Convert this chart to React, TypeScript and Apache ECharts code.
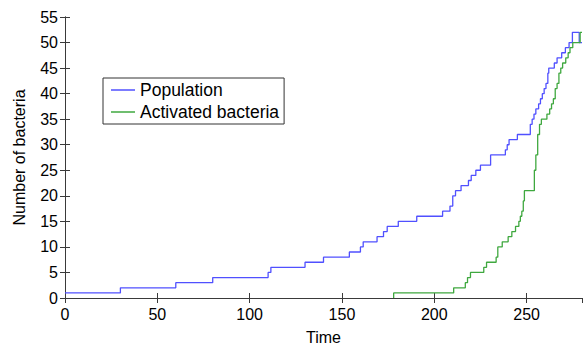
import React, { useEffect, useRef } from "react";
import * as echarts from "echarts";

// Step data: value holds from the given time until the next time
const popTimes = [0, 30, 60, 80, 110, 111.5, 130, 140, 154, 160, 161.5, 169, 172.5, 174.5, 180.5, 190.5, 204.5, 208.5, 210, 211.5, 214.5, 218.5, 220, 222.5, 225, 230.5, 238.5, 239.5, 240.5, 245, 252, 253, 254, 255, 256.5, 257.5, 258.5, 259.5, 260.5, 261.5, 262, 265, 266.5, 269, 271, 273, 274.8, 278.5, 280];
const popValues = [1, 2, 3, 4, 5, 6, 7, 8, 9, 10, 11, 12, 13, 14, 15, 16, 17, 18, 20, 21, 22, 23, 24, 25, 26, 28, 29, 30, 31, 32, 34, 35, 36, 37, 38, 39, 40, 41, 42, 44, 45, 46, 47, 48, 49, 50, 52, 50, 50];

const actTimes = [178, 178, 210.5, 216.8, 218, 219.6, 226.8, 228.3, 233.5, 234.4, 236.8, 240, 242, 244, 245.8, 246.6, 247.4, 248.2, 248.8, 254.2, 255, 256, 257, 258, 261, 262.5, 263.5, 264.5, 265.5, 266.5, 267.5, 268.5, 269.5, 271.2, 272.5, 273.5, 275, 279, 280];
const actValues = [0, 1, 2, 3, 4, 5, 6, 7, 8, 10, 11, 12, 13, 14, 15, 16, 17, 19, 21, 25, 28, 32, 34, 35, 36, 37, 38, 39, 41, 42, 44, 45, 46, 47, 48, 49, 50, 52, 52];

const seriesNames = ["Population", "Activated bacteria"];
const xName = "Time";
const yName = "Number of bacteria";

const FONT = "'Liberation Sans', Arial, Helvetica, sans-serif";

export default function App() {
  const ref = useRef<HTMLDivElement>(null);
  useEffect(() => {
    if (!ref.current) return;
    const chart = echarts.init(ref.current, undefined, { renderer: "svg" });
    const pop = popTimes.map((t, i) => [t, popValues[i]]);
    const act = actTimes.map((t, i) => [t, actValues[i]]);
    const axisLine = { show: true, lineStyle: { color: "#3a3a3a", width: 1 } };
    const tick = { show: true, inside: true, length: 5, lineStyle: { color: "#3a3a3a" } };
    const label = { color: "#000", fontSize: 16, fontFamily: FONT };
    chart.setOption({
      animation: false,
      backgroundColor: "#fff",
      grid: { left: 65, right: 2, top: 17, bottom: 47, containLabel: false, outerBoundsMode: "none" },
      legend: {
        orient: "vertical",
        left: 103,
        top: 78,
        padding: [2, 5, 2, 8],
        itemGap: 2,
        itemWidth: 24,
        itemHeight: 1.5,
        icon: "rect",
        borderColor: "#333",
        borderWidth: 1,
        borderRadius: 0,
        backgroundColor: "#fff",
        textStyle: { color: "#000", fontSize: 17.5, fontFamily: FONT, lineHeight: 20 },
        data: seriesNames,
      },
      xAxis: [
        {
          type: "value",
          min: 0,
          max: 280,
          interval: 50,
          name: xName,
          nameLocation: "middle",
          nameGap: 31,
          nameTextStyle: { color: "#000", fontSize: 16, fontFamily: FONT, lineHeight: 16 },
          axisLine,
          axisTick: tick,
          axisLabel: { ...label, margin: 8, showMaxLabel: false },
          splitLine: { show: false },
        },
        {
          type: "value",
          position: "top",
          min: 0,
          max: 280,
          interval: 50,
          axisLine,
          axisTick: tick,
          axisLabel: { show: false },
          splitLine: { show: false },
        },
      ],
      yAxis: [
        {
          type: "value",
          min: 0,
          max: 55,
          interval: 5,
          name: yName,
          nameLocation: "middle",
          nameGap: 38,
          nameTextStyle: { color: "#000", fontSize: 16, fontFamily: FONT },
          axisLine,
          axisTick: tick,
          axisLabel: { ...label, margin: 7 },
          splitLine: { show: false },
        },
        {
          type: "value",
          position: "right",
          min: 0,
          max: 55,
          interval: 5,
          axisLine,
          axisTick: tick,
          axisLabel: { show: false },
          splitLine: { show: false },
        },
      ],
      series: [
        {
          name: seriesNames[0],
          type: "line",
          step: "end",
          data: pop,
          symbol: "none",
          lineStyle: { color: "#5050ff", width: 1.3 },
          itemStyle: { color: "#5050ff" },
        },
        {
          name: seriesNames[1],
          type: "line",
          step: "end",
          data: act,
          symbol: "none",
          lineStyle: { color: "#3fa83f", width: 1.3 },
          itemStyle: { color: "#3fa83f" },
        },
      ],
    });
    return () => chart.dispose();
  }, []);
  return (
    <div
      ref={ref}
      style={{ position: "fixed", left: 0, top: 0, width: 584, height: 345 }}
    />
  );
}
